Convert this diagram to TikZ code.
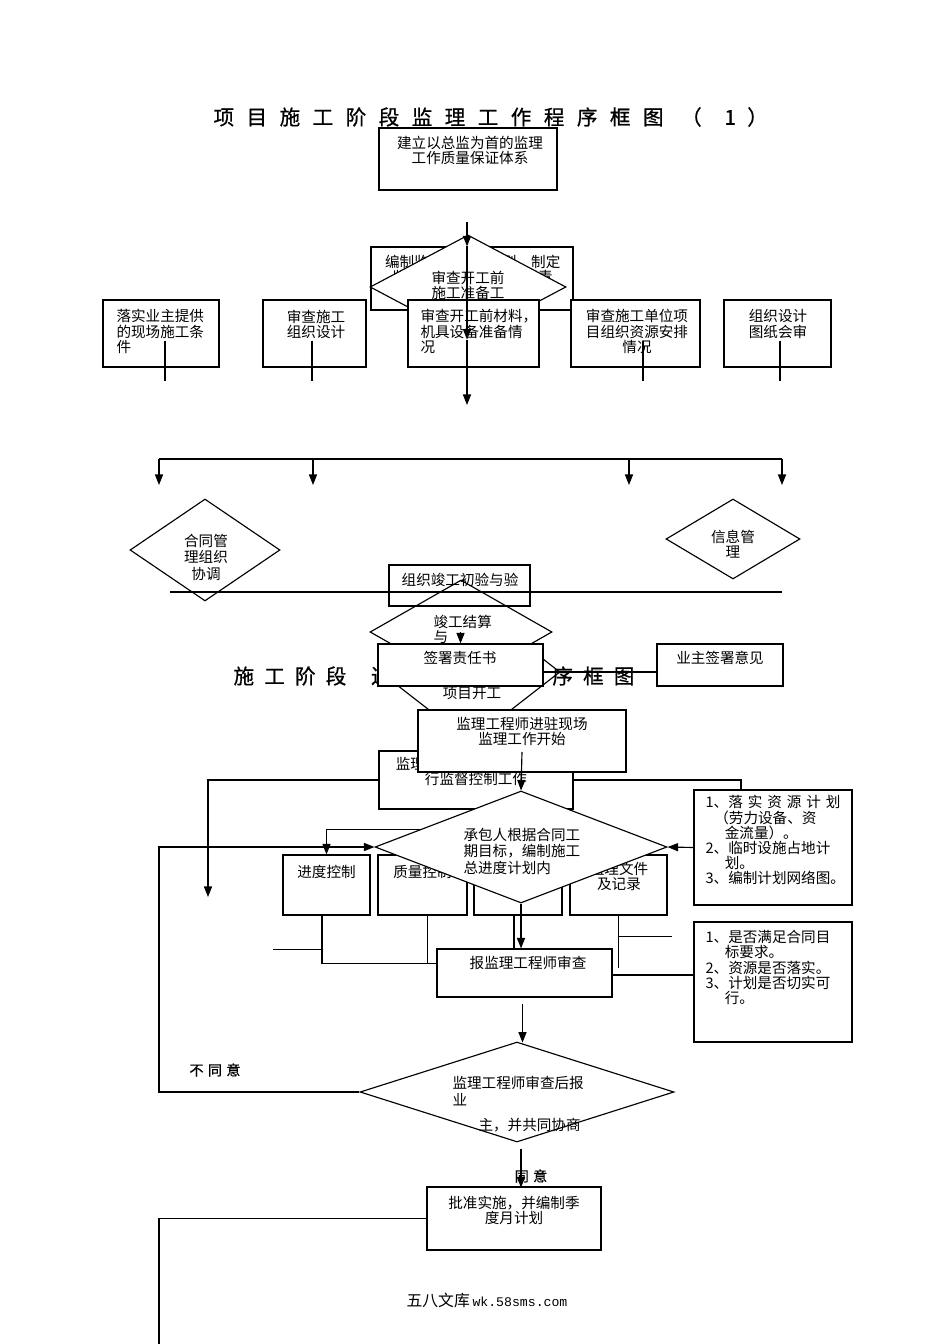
\documentclass[tikz,border=0pt]{standalone}
\usepackage{fontspec}
\setmainfont{Noto Sans CJK SC}
\newfontfamily\monofnt{Liberation Mono}
\newfontfamily\headfam[FakeBold=0.8]{Noto Sans CJK SC}
\usetikzlibrary{arrows.meta,shapes.geometric,calc}

\newcommand\boxfont{\fontsize{8.3}{8.6}\selectfont}
\newcommand\diafont{\fontsize{8.3}{9.4}\selectfont}
\newcommand\headfont{\headfam\fontsize{11.7}{13}\selectfont}
\newcommand\gapA{\hspace{7.1pt}}
\newcommand\gapB{\hspace{5.8pt}}
\newcommand\jsp{\hspace{2.8pt}}

\begin{document}
\begin{tikzpicture}[x=0.02cm, y=-0.02cm, line width=0.65pt,
    box/.style={draw, fill=white, inner sep=0pt},
    openbox/.style={draw, inner sep=0pt},
    dia/.style={diamond, draw, fill=white, inner sep=0pt},
    txt/.style={font=\boxfont, align=center, inner sep=0pt},
    ltxt/.style={font=\boxfont, align=left, inner sep=0pt},
    dtxt/.style={font=\diafont, align=center, inner sep=0pt},
    head/.style={font=\headfont, inner sep=0pt},
    note/.style={font=\headfam\fontsize{8}{9}\selectfont, inner sep=0pt},
    arr/.style={-{Triangle[length=6pt,width=4.6pt]}}]

  \useasboundingbox (0,0) rectangle (950,1344);

  %% Title (1)
  \node[head, anchor=west] (head1) at (213,117)
    {项\gapA 目\gapA 施\gapA 工\gapA 阶\gapA 段\gapA 监\gapA 理\gapA 工\gapA 作\gapA 程\gapA 序\gapA 框\gapA 图\hspace{10pt}（\hspace{13pt}1\hspace{6.5pt}）};

  %% Quality system
  \node[box, minimum width=3.56cm, minimum height=1.24cm] (setup) at (468,159) {};
  \node[txt] (setupT) at (470,150.5) {建立以总监为首的监理\\工作质量保证体系};
  \coordinate (s0) at (467,222);
  \coordinate (s1) at (467,405);

  %% Preparation (plan text mostly hidden by the diamond)
  \node[box, minimum width=4.04cm, minimum height=1.26cm] (plan) at (472,278.5) {};
  \node[txt, anchor=west] (planA) at (384.5,262) {编制监理};
  \node[txt, anchor=west] (planB) at (501.5,262) {则，制定};
  \node[txt, anchor=west] (planC) at (391.7,276.5) {监理};
  \node[txt, anchor=west] (planD) at (523,276.5) {职责};
  \node[dia, minimum width=3.92cm, minimum height=2.08cm] (prep) at (468,287) {};
  \node[txt] (prepT) at (468,285.5) {审查开工前\\施工准备工};

  %% Checks before start
  \node[box, minimum width=2.32cm, minimum height=1.34cm] (site) at (161,333.5) {};
  \node[ltxt, anchor=west] (siteT) at (116,331.5) {落实业主提供\\的现场施工条\\件};
  \node[box, minimum width=2.06cm, minimum height=1.34cm] (design) at (314.5,333.5) {};
  \node[txt] (designT) at (316,324) {审查施工\\组织设计};
  \node[box, minimum width=2.62cm, minimum height=1.34cm] (material) at (473.5,333.5) {};
  \node[ltxt, anchor=west] (materialT) at (420,331.5) {审查开工前材料，\\机具设备准备情\\况};
  \node[box, minimum width=2.58cm, minimum height=1.34cm] (resource) at (635.5,333.5) {};
  \node[txt] (resourceT) at (637,331.5) {审查施工单位项\\目组织资源安排\\情况};
  \node[box, minimum width=2.14cm, minimum height=1.34cm] (drawing) at (777.5,333.5) {};
  \node[txt] (drawingT) at (778,324) {组织设计\\图纸会审};

  \foreach \n/\dx in {site/4, design/-2.5, resource/7.5, drawing/2.5}
    \draw ($(\n.south)+(\dx,-27)$) -- ++(0,40);

  \draw[arr] (s0) -- (s0 |- plan.north);
  \draw[arr] (s0 |- plan.north) -- (s0 |- prep.south);
  \draw[arr] (s0 |- prep.south) -- (s1);

  %% Branches
  \coordinate (busL) at (159,459);
  \coordinate (busR) at (782,459);
  \draw (busL) -- (busR);
  \foreach \dx in {0,154,470,623}
    \draw[arr] (busL) ++(\dx,0) -- ++(0,26);

  \node[dia, minimum width=3.0cm, minimum height=2.04cm] (contract) at (205,550) {};
  \node[dtxt] (contractT) at (206,557) {合同管\\理组织\\协调};
  \node[dia, minimum width=2.68cm, minimum height=1.6cm] (info) at (733,539) {};
  \node[txt] (infoT) at (733,544.5) {信息管\\理};

  %% Completion
  \node[dia, minimum width=3.6cm, minimum height=2.8cm] (start) at (470,672) {};
  \node[dia, minimum width=3.64cm, minimum height=2.08cm] (settle) at (461,632) {};
  \node[ltxt, anchor=west] (settleT) at (433,629.5) {竣工结算\\与};
  \node[openbox, minimum width=2.82cm, minimum height=0.82cm] (accept) at (459.5,585.5) {};
  \node[txt] (acceptT) at (460,580) {组织竣工初验与验};
  \coordinate (hl) at (170,592);
  \draw (hl) -- ++(612,0);

  %% Title (2)
  \node[head, anchor=west] (head2L) at (233,676)
    {施\gapB 工\gapB 阶\gapB 段\hspace{14pt}进\gapB 度\gapB 控\gapB 制};
  \node[head, anchor=east] (head2R) at (635,676)
    {程\gapB 序\gapB 框\gapB 图};

  \node[box, minimum width=3.3cm, minimum height=0.84cm] (sign) at (460.5,665) {};
  \node[txt] (signT) at (460,658) {签署责任书};
  \node[box, minimum width=2.52cm, minimum height=0.84cm] (owner) at (720,665) {};
  \node[txt] (ownerT) at (720,658) {业主签署意见};
  \node[txt] (startT) at (472,693) {项目开工};
  \coordinate (tl) at (600,672);
  \draw (sign.east |- tl) -- (owner.west |- tl);
  \draw[arr] (sign.north) ++(0,-11) -- (sign.north);

  %% Site supervision
  \node[box, minimum width=3.88cm, minimum height=1.16cm] (control) at (476,780) {};
  \node[txt] (controlT) at (476,771.5) {监理工程师按监理规划进\\行监督控制工作};
  \node[box, minimum width=4.16cm, minimum height=1.24cm] (entry) at (522,741) {};
  \node[txt] (entryT) at (522,731.5) {监理工程师进驻现场\\监理工作开始};

  \node[box, minimum width=1.74cm, minimum height=1.2cm] (progress) at (326.5,885) {};
  \node[txt] (progressT) at (326.5,872) {进度控制};
  \node[box, minimum width=1.78cm, minimum height=1.2cm] (quality) at (422.5,885) {};
  \node[txt] (qualityT) at (422.5,872) {质量控制};
  \node[box, minimum width=1.76cm, minimum height=1.2cm] (cost) at (518,885) {};
  \node[box, minimum width=1.94cm, minimum height=1.2cm] (records) at (618.5,885) {};
  \node[txt] (recordsT) at (619,876.5) {监理文件\\及记录};

  \node[dia, minimum width=5.84cm, minimum height=2.24cm] (schedule) at (521,847) {};
  \node[dtxt, align=left, anchor=west] (scheduleT) at (463,851)
    {承包人根据合同工\\期目标，编制施工\\总进度计划内};

  \node[box, minimum width=3.16cm, minimum height=2.3cm] (resplan) at (773,847.5) {};
  \node[ltxt, anchor=north west] (resplanT) at (705,795)
    {1、落\jsp 实\jsp 资\jsp 源\jsp 计\jsp 划\\\hspace*{5pt}（劳力设备、资\\\hspace*{11pt}金流量）。\\2、临时设施占地计\\\hspace*{11pt}划。\\3、编制计划网络图。};

  \node[box, minimum width=3.5cm, minimum height=0.96cm] (report) at (524.5,973) {};
  \node[txt] (reportT) at (528,963) {报监理工程师审查};
  \node[box, minimum width=3.16cm, minimum height=2.4cm] (criteria) at (773,982) {};
  \node[ltxt, anchor=north west] (criteriaT) at (705,930)
    {1、是否满足合同目\\\hspace*{11pt}标要求。\\2、资源是否落实。\\3、计划是否切实可\\\hspace*{11pt}行。};

  \node[dia, minimum width=6.28cm, minimum height=2.0cm] (review) at (517,1092) {};
  \node[dtxt, align=left, anchor=north west] (reviewT) at (452,1076)
    {监理工程师审查后报\\业\\[5pt]\hspace*{14.8pt}主，并共同协商};

  \node[box, minimum width=3.48cm, minimum height=1.26cm] (approve) at (514,1218.5) {};
  \node[txt] (approveT) at (514,1210) {批准实施，并编制季\\度月计划};

  %% Connectors
  \coordinate (dropL) at (208,897);
  \coordinate (kR) at (741,790);
  \coordinate (loopL) at (159,847);
  \coordinate (botL) at (159,1344);
  \draw[arr] (control.west) -| (dropL);
  \draw (control.east) -| (kR);
  \draw[arr] ($(entry.center)+(0,11)$) -- (schedule.north);
  \draw[arr] (resplan.west) -- (schedule.east);
  \draw[arr] (schedule.170) -| (progress.north);
  \draw[arr] (schedule.south) -- (schedule.south |- report.north);
  \draw (progress.south) ++(-4.5,0) -- ++(0,48) -- ++(115.5,0);
  \draw (progress.south) ++(-4.5,34) -- ++(-49,0);
  \draw (quality.south) ++(5,0) -- ++(0,48);
  \draw (cost.south) ++(-4,0) -- ++(0,34);
  \draw (records.south) -- ++(0,52);
  \draw (records.south) ++(0,21) -- ++(53,0);
  \draw (report.east) ++(0,2) -- ++(82,0);
  \draw[arr] (report.south) ++(-2,6) -- ++(0,39);
  \draw[arr] (review.west) -| (loopL) |- (schedule.west);
  \draw[arr] (review.south) ++(4,6) -- ++(0,39);
  \draw (approve.west) -| (botL);

  %% Labels
  \node[note] (refuse) at (215,1070) {不\hspace{2.5pt}同\hspace{2.5pt}意};
  \node[note] (agree) at (531,1176) {同\hspace{2.5pt}意};
  \node[inner sep=0pt] (footer) at (487,1300)
    {\fontsize{9}{10}\selectfont 五八文库\,{\monofnt\fontsize{7.5}{9}\selectfont wk.58sms.com}};
\end{tikzpicture}
\end{document}
